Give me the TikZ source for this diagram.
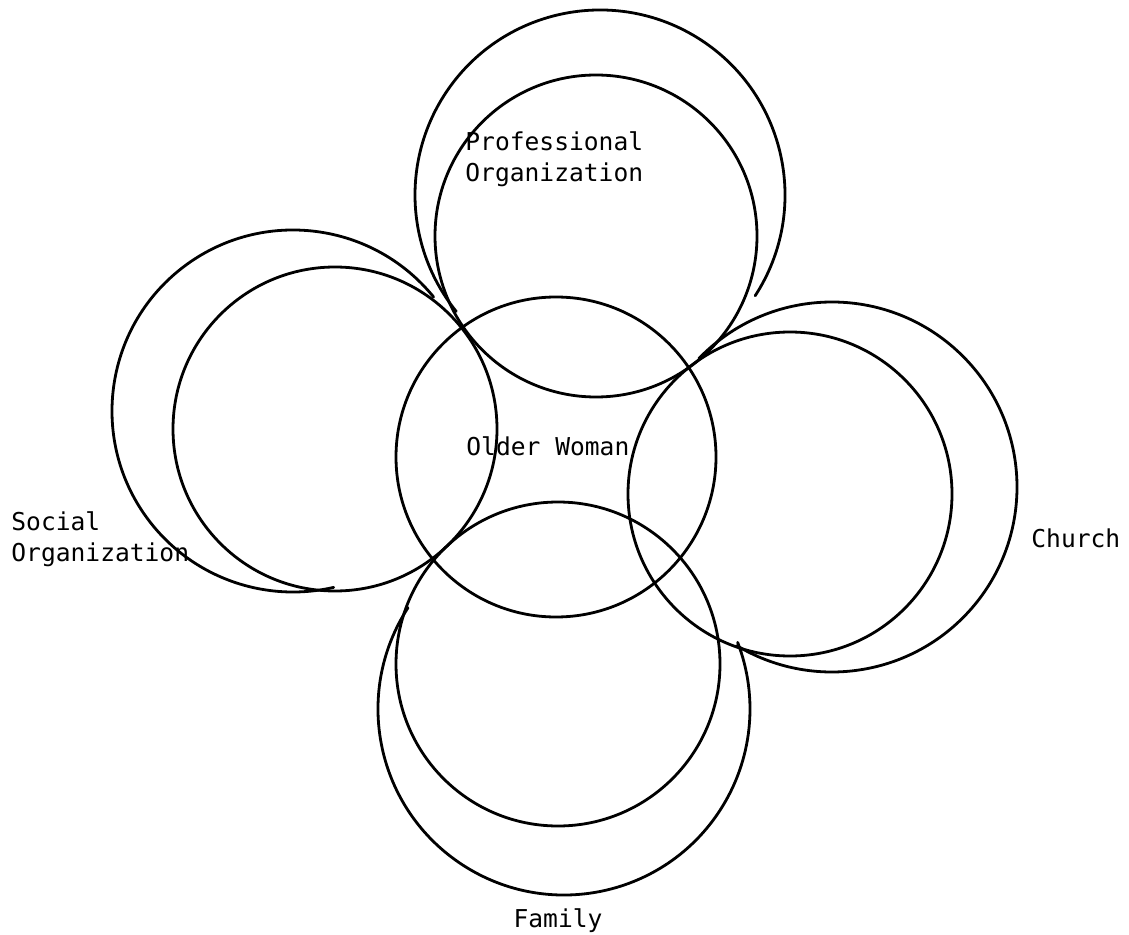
\documentclass[tikz,border=0pt]{standalone}
\usepackage{fontspec}
\setmonofont{DejaVu Sans Mono}

\begin{document}
\begin{tikzpicture}[line cap=round,line join=round,x=0.5pt,y=0.5pt,
  ring/.style={line width=1.4pt},
  lbl/.style={font=\ttfamily\fontsize{12.3}{15.5}\selectfont,inner sep=0pt,align=left}]

\useasboundingbox (0,-935) rectangle (1129,0);

% the five inner circles
\draw[ring] (556,-457) circle (160);
\draw[ring] (596,-236) circle (161);
\draw[ring] (335,-429) circle (162);
\draw[ring] (790,-494) circle (162);
\draw[ring] (558,-664) circle (162);

% outer crescents
\draw[ring] (600,-195) ++(-33:185) arc[start angle=-33,end angle=219,radius=185];
\draw[ring] (293,-411) ++(39:181) arc[start angle=39,end angle=283,radius=181];
\draw[ring] (832,-487) ++(136:185) arc[start angle=136,end angle=-121,radius=185];
\draw[ring] (564,-709) ++(147:186) arc[start angle=147,end angle=381,radius=186];

\node[lbl,anchor=north west] (prof) at (465,-131) {Professional\\Organization};
\node[lbl,anchor=base west] (woman) at (466,-455) {Older Woman};
\node[lbl,anchor=north west] (social) at (11,-511) {Social\\Organization};
\node[lbl,anchor=base west] (church) at (1031,-547) {Church};
\node[lbl,anchor=base] (family) at (558,-927) {Family};
\end{tikzpicture}
\end{document}
